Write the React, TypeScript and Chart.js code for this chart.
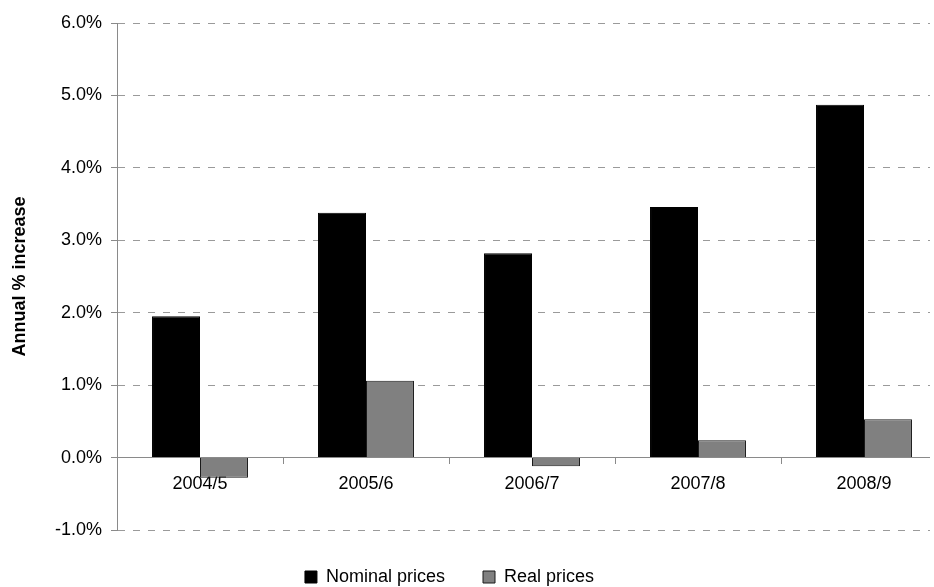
import React, { useEffect, useRef } from "react";
import { Chart, registerables } from "chart.js";

Chart.register(...registerables);

// Financial years shown on the category axis
const years = ["2004/5", "2005/6", "2006/7", "2007/8", "2008/9"];

// Annual % increase in prices
const nominalPrices = [1.95, 3.38, 2.82, 3.46, 4.87];
const realPrices = [-0.28, 1.06, -0.12, 0.24, 0.53];

const seriesNames = ["Nominal prices", "Real prices"];

// Value axis range
const yMin = -1;
const yMax = 6;
const yStep = 1;

const FONT = "'Liberation Sans', Arial, sans-serif";

// Moves the centred legend a little to the left of the canvas centre
const legendShift = {
  id: "legendShift",
  afterLayout(chart: any) {
    const lg = chart.legend;
    if (lg) {
      lg.left -= 24;
      lg.right -= 24;
    }
  },
};

export default function App() {
  const canvasRef = useRef<HTMLCanvasElement | null>(null);

  useEffect(() => {
    if (!canvasRef.current) return;
    const chart = new Chart(canvasRef.current, {
      type: "bar",
      data: {
        labels: years,
        datasets: [
          {
            label: seriesNames[0],
            data: nominalPrices,
            backgroundColor: "#000000",
            borderColor: "#000000",
            borderWidth: 1,
          },
          {
            label: seriesNames[1],
            data: realPrices,
            backgroundColor: "#808080",
            borderColor: "#1a1a1a",
            borderWidth: 1,
          },
        ],
      },
      plugins: [legendShift],
      options: {
        responsive: false,
        animation: false,
        events: [],
        datasets: {
          bar: {
            categoryPercentage: 0.578,
            barPercentage: 1,
          },
        },
        layout: {
          padding: { top: 23, left: 0, right: 0, bottom: 0 },
        },
        plugins: {
          tooltip: { enabled: false },
          legend: {
            position: "bottom",
            labels: {
              boxWidth: 12,
              boxHeight: 12,
              padding: 38,
              color: "#000",
              font: { family: FONT, size: 18 },
            },
          },
        },
        scales: {
          x: {
            position: { y: 0 } as any,
            offset: true,
            grid: {
              display: true,
              offset: true,
              drawOnChartArea: false,
              drawTicks: true,
              tickLength: 6,
              tickColor: "#8a8a8a",
            },
            border: { display: true, color: "#8a8a8a", width: 1 },
            ticks: {
              color: "#000",
              padding: 10,
              maxRotation: 0,
              font: { family: FONT, size: 18 },
            },
          },
          y: {
            min: yMin,
            max: yMax,
            afterFit: (scale: any) => {
              scale.width = 117;
            },
            ticks: {
              stepSize: yStep,
              color: "#000",
              padding: 9,
              font: { family: FONT, size: 18 },
              callback: (v: any) => Number(v).toFixed(1) + "%",
            },
            grid: {
              color: "#9a9a9a",
              lineWidth: 1,
              tickBorderDash: [],
              tickColor: "#8a8a8a",
              tickLength: 6,
              drawTicks: true,
            },
            // dash applies to the horizontal grid lines
            border: { display: true, color: "#8a8a8a", width: 1, dash: [7, 8] },
            title: {
              display: true,
              text: "Annual % increase",
              color: "#000",
              font: { family: FONT, size: 18, weight: "bold" },
              padding: { top: 9, bottom: 0 },
            },
          },
        },
      },
    });
    return () => chart.destroy();
  }, []);

  return (
    <div
      style={{
        position: "fixed",
        left: 0,
        top: 0,
        width: 930,
        height: 587,
        overflow: "hidden",
        background: "#fff",
      }}
    >
      <canvas ref={canvasRef} width={947} height={596} style={{ display: "block" }} />
    </div>
  );
}
